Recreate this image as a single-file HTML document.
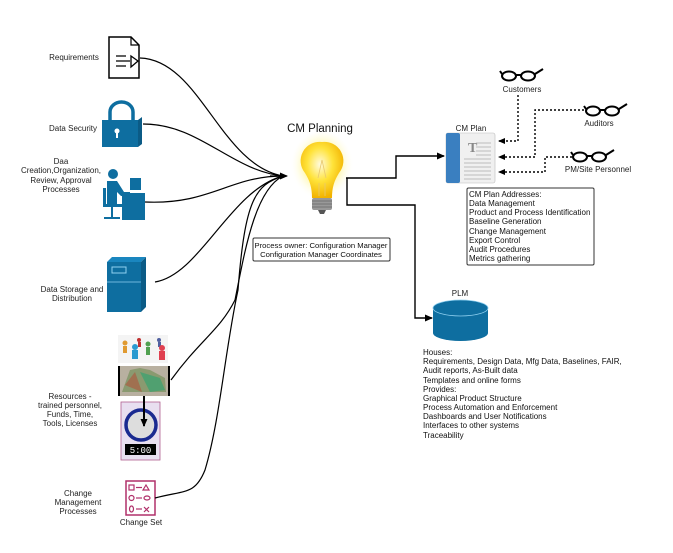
<!DOCTYPE html>
<html><head><meta charset="utf-8"><style>
html,body{margin:0;padding:0;background:#fff;}
svg{display:block;font-family:"Liberation Sans",Arial,sans-serif;}
</style></head><body>
<svg width="673" height="553" viewBox="0 0 673 553" xmlns="http://www.w3.org/2000/svg">
<defs>
<marker id="ah" markerWidth="8" markerHeight="8" refX="7" refY="4" orient="auto" markerUnits="userSpaceOnUse"><path d="M0,0.5 L8,4 L0,7.5 z" fill="#000"/></marker>
<marker id="as" markerWidth="7" markerHeight="6" refX="6" refY="3" orient="auto" markerUnits="userSpaceOnUse"><path d="M0,0 L7,3 L0,6 z" fill="#000"/></marker>
<radialGradient id="glow" cx="0.5" cy="0.45" r="0.5"><stop offset="0.5" stop-color="#fff7a0"/><stop offset="1" stop-color="#fff" stop-opacity="0"/></radialGradient>
<radialGradient id="bulb" cx="0.45" cy="0.4" r="0.6"><stop offset="0" stop-color="#fffbe0"/><stop offset="0.5" stop-color="#ffe33a"/><stop offset="1" stop-color="#f2b200"/></radialGradient>
</defs>
<g font-size="8" fill="#222" text-anchor="middle">
<text x="74" y="60">Requirements</text>
<text x="73" y="131">Data Security</text>
<text x="61" y="164">Daa</text>
<text x="61" y="173">Creation,Organization,</text>
<text x="61" y="183">Review, Approval</text>
<text x="61" y="192">Processes</text>
<text x="72" y="292">Data Storage and</text>
<text x="72" y="301">Distribution</text>
<text x="70" y="399">Resources -</text>
<text x="70" y="408">trained personnel,</text>
<text x="70" y="417">Funds, Time,</text>
<text x="70" y="426">Tools, Licenses</text>
<text x="78" y="496">Change</text>
<text x="78" y="505">Management</text>
<text x="78" y="514">Processes</text>
<text x="141" y="525">Change Set</text>
</g>
<path d="M109,37 H131 L139,45 V78 H109 Z" fill="#fff" stroke="#000" stroke-width="1.5"/>
<path d="M131,37 V45 H139" fill="none" stroke="#000" stroke-width="1.2"/>
<path d="M116,56 H126 M116,61 H130 M116,66 H126" stroke="#000" stroke-width="1.3"/>
<path d="M131,56 L138,61 L131,67 Z" fill="#fff" stroke="#000" stroke-width="1.3"/>
<path d="M110,120 V112 A11.5,10 0 0 1 133,112 V120" fill="none" stroke="#0e6ea0" stroke-width="3.5"/>
<rect x="102" y="120" width="36" height="27" fill="#0e6ea0"/>
<path d="M138,120 L142,117 V144 L138,147 Z" fill="#0b5b86"/>
<circle cx="117" cy="131" r="2.5" fill="#fff"/><rect x="116" y="131" width="2" height="7" fill="#fff"/>
<circle cx="113" cy="174" r="5" fill="#0e6ea0"/>
<path d="M107,181 H117 L124,192 H130 V196 H121 L117,192 V204 H107 Z" fill="#0e6ea0"/>
<rect x="103" y="188" width="3" height="18" fill="#0e6ea0"/>
<rect x="103" y="204" width="20" height="3" fill="#0e6ea0"/>
<rect x="111" y="207" width="2" height="11" fill="#0e6ea0"/><rect x="104" y="217" width="16" height="2" fill="#0e6ea0"/>
<rect x="130" y="178" width="11" height="12" fill="#0e6ea0"/>
<rect x="122" y="193" width="23" height="27" fill="#0e6ea0"/>
<path d="M107,262 L112,257 H146 L141,262 Z" fill="#1a86bf"/>
<rect x="107" y="262" width="34" height="50" fill="#0e6ea0"/>
<path d="M141,262 L146,257 V307 L141,312 Z" fill="#0b5b86"/>
<rect x="112" y="267" width="14" height="6" fill="none" stroke="#8fd0f0" stroke-width="1"/>
<line x1="107" y1="282" x2="141" y2="282" stroke="#8fd0f0" stroke-width="0.8"/>
<rect x="118" y="335" width="50" height="28" fill="#f4f4f4"/>
<g>
<circle cx="125" cy="343" r="2.5" fill="#e09a30"/><rect x="123" y="346" width="4" height="7" fill="#e09a30"/>
<circle cx="135" cy="347" r="3" fill="#2a9ad0"/><rect x="132" y="350" width="6" height="9" fill="#2a9ad0"/>
<circle cx="139" cy="340" r="2" fill="#c03030"/><rect x="138" y="342" width="3" height="5" fill="#c03030"/>
<circle cx="148" cy="344" r="2.5" fill="#50a050"/><rect x="146" y="347" width="4" height="8" fill="#50a050"/>
<circle cx="159" cy="340" r="2" fill="#5060a0"/><rect x="158" y="342" width="3" height="5" fill="#5060a0"/>
<circle cx="162" cy="348" r="3" fill="#e04050"/><rect x="159" y="351" width="6" height="9" fill="#e04050"/>
</g>
<rect x="119" y="366" width="51" height="30" fill="#b8b0a0"/>
<path d="M122,392 L130,370 L140,368 L150,370 L165,378 L166,392 Z" fill="#8a9a70"/>
<path d="M140,372 L160,378 L165,390 L150,392 Z" fill="#50a070"/>
<path d="M125,385 L135,372 L142,392 Z" fill="#a07050"/>
<rect x="118" y="366" width="2" height="30" fill="#000"/><rect x="168" y="366" width="2" height="30" fill="#000"/>
<rect x="121" y="402" width="39" height="58" fill="#e8dff0" stroke="#b06090" stroke-width="0.8"/>
<circle cx="141" cy="425" r="15" fill="#ddd" stroke="#1a2a90" stroke-width="3.5"/>
<rect x="125" y="444" width="31" height="11" fill="#000"/>
<text x="140.5" y="453" font-family="Liberation Mono,monospace" font-size="9" fill="#fff" text-anchor="middle">5:00</text>
<line x1="144" y1="396" x2="144" y2="426" stroke="#000" stroke-width="2" marker-end="url(#ah)"/>
<rect x="126" y="481" width="29" height="34" fill="#fff" stroke="#b0306a" stroke-width="1.5"/>
<g stroke="#b0306a" stroke-width="1.2" fill="none">
<rect x="129" y="485" width="5" height="5"/><path d="M136,487.5 H142"/><path d="M146,485 L149,490 H143 Z"/>
<circle cx="131.5" cy="498" r="2.5"/><path d="M136,498 H142"/><ellipse cx="147" cy="498" rx="3" ry="2"/>
<ellipse cx="131.5" cy="509" rx="2" ry="3"/><path d="M136,509 H142"/><path d="M144,507 L149,512 M149,507 L144,512"/>
</g>
<g fill="none" stroke="#000" stroke-width="1.2">
<path d="M140,58 C200,60 220,165 283,176"/>
<path d="M143,124 C200,124 230,170 283,176"/>
<path d="M145,202 C210,205 230,176 283,176"/>
<path d="M155,282 C200,275 230,190 283,176"/>
<path d="M171,380 C200,340 220,330 235,300 C245,250 255,190 283,176"/>
<path d="M155,498 C185,490 195,495 205,470 C220,420 225,350 238,290 C245,200 255,185 283,176"/>
</g>
<line x1="270" y1="176" x2="287" y2="176" stroke="#000" stroke-width="1.2" marker-end="url(#ah)"/>
<ellipse cx="322" cy="168" rx="32" ry="36" fill="url(#glow)"/>
<path d="M322,142 A19,19 0 0 1 339,173 C334,181 332,188 332,198 H312 C312,188 310,181 305,173 A19,19 0 0 1 322,142 Z" fill="url(#bulb)"/>
<path d="M318,178 L322,160 L326,178 M319,183 V196 M325,183 V196" stroke="#e8c870" stroke-width="0.8" fill="none"/>
<rect x="312" y="198" width="20" height="12" rx="2" fill="#999"/>
<path d="M312,201 H332 M312,204 H332 M312,207 H332" stroke="#666" stroke-width="0.8"/>
<path d="M318,210 H326 L324,214 H320 Z" fill="#555"/>
<text x="320" y="132" font-size="11.5" fill="#111" text-anchor="middle">CM Planning</text>
<rect x="253" y="238" width="137" height="23" fill="#fff" stroke="#333" stroke-width="1" rx="1.5"/>
<text x="321" y="248" font-size="7.7" fill="#111" text-anchor="middle" textLength="133" lengthAdjust="spacingAndGlyphs">Process owner: Configuration Manager</text>
<text x="321" y="257" font-size="7.7" fill="#111" text-anchor="middle">Configuration Manager Coordinates</text>
<path d="M346,178 H396 V156 H444" fill="none" stroke="#000" stroke-width="1.4" marker-end="url(#ah)"/>
<path d="M347,178 V205 H415 V318 H432" fill="none" stroke="#000" stroke-width="1.4" marker-end="url(#ah)"/>
<text x="471" y="131" font-size="8" fill="#222" text-anchor="middle">CM Plan</text>
<rect x="446" y="133" width="49" height="50" rx="2" fill="#f0f0f0" stroke="#bbb" stroke-width="0.6"/>
<rect x="446" y="133" width="14" height="50" rx="2" fill="#3a7fc0"/>
<text x="468" y="152" font-family="Liberation Serif,serif" font-size="14" font-weight="bold" fill="#888">T</text>
<g stroke="#aaa" stroke-width="0.7">
<path d="M476,143 H491 M476,147 H491 M476,151 H491 M476,155 H491 M464,159 H491 M464,163 H491 M464,167 H491 M464,171 H491 M464,175 H491 M464,179 H491"/>
</g>
<rect x="467" y="188" width="127" height="77" fill="#fff" stroke="#333" stroke-width="1" rx="1.5"/>
<g font-size="8" fill="#111">
<text x="469" y="197">CM Plan Addresses:</text>
<text x="469" y="206">Data Management</text>
<text x="469" y="215">Product and Process Identification</text>
<text x="469" y="224">Baseline Generation</text>
<text x="469" y="234">Change Management</text>
<text x="469" y="243">Export Control</text>
<text x="469" y="252">Audit Procedures</text>
<text x="469" y="261">Metrics gathering</text>
</g>
<g fill="none" stroke="#000" stroke-width="2">
<ellipse cx="509" cy="76" rx="7" ry="4.5"/><ellipse cx="528" cy="76" rx="7" ry="4.5"/><path d="M516,75 H521 M535,74 L543,69 M502,74 L500,71"/>
<ellipse cx="593" cy="111" rx="7" ry="4.5"/><ellipse cx="612" cy="111" rx="7" ry="4.5"/><path d="M600,110 H605 M619,109 L627,104 M586,109 L584,106"/>
<ellipse cx="580" cy="157" rx="7" ry="4.5"/><ellipse cx="599" cy="157" rx="7" ry="4.5"/><path d="M587,156 H592 M606,155 L614,150 M573,155 L571,152"/>
</g>
<g font-size="8" fill="#222" text-anchor="middle">
<text x="522" y="92">Customers</text>
<text x="599" y="126">Auditors</text>
<text x="598" y="172">PM/Site Personnel</text>
</g>
<g fill="none" stroke="#000" stroke-width="1.4" stroke-dasharray="2,2">
<path d="M518,95 V141 H499" marker-end="url(#as)"/>
<path d="M584,110 H535 V157 H499" marker-end="url(#as)"/>
<path d="M572,157 H545 V172 H499" marker-end="url(#as)"/>
</g>
<text x="460" y="296" font-size="8" fill="#222" text-anchor="middle">PLM</text>
<path d="M433,308 V333 A27.5,8 0 0 0 488,333 V308" fill="#0e6ea0"/>
<ellipse cx="460.5" cy="308" rx="27.5" ry="8" fill="#0e6ea0" stroke="#8fd0f0" stroke-width="0.8"/>
<g font-size="8" fill="#111">
<text x="423" y="355">Houses:</text>
<text x="423" y="364">Requirements, Design Data, Mfg Data,  Baselines, FAIR,</text>
<text x="423" y="373">Audit reports, As-Built data</text>
<text x="423" y="383">Templates and online forms</text>
<text x="423" y="392">Provides:</text>
<text x="423" y="401">Graphical Product Structure</text>
<text x="423" y="410">Process Automation and Enforcement</text>
<text x="423" y="419">Dashboards and User Notifications</text>
<text x="423" y="428">Interfaces to other systems</text>
<text x="423" y="438">Traceability</text>
</g>
</svg>
</body></html>
